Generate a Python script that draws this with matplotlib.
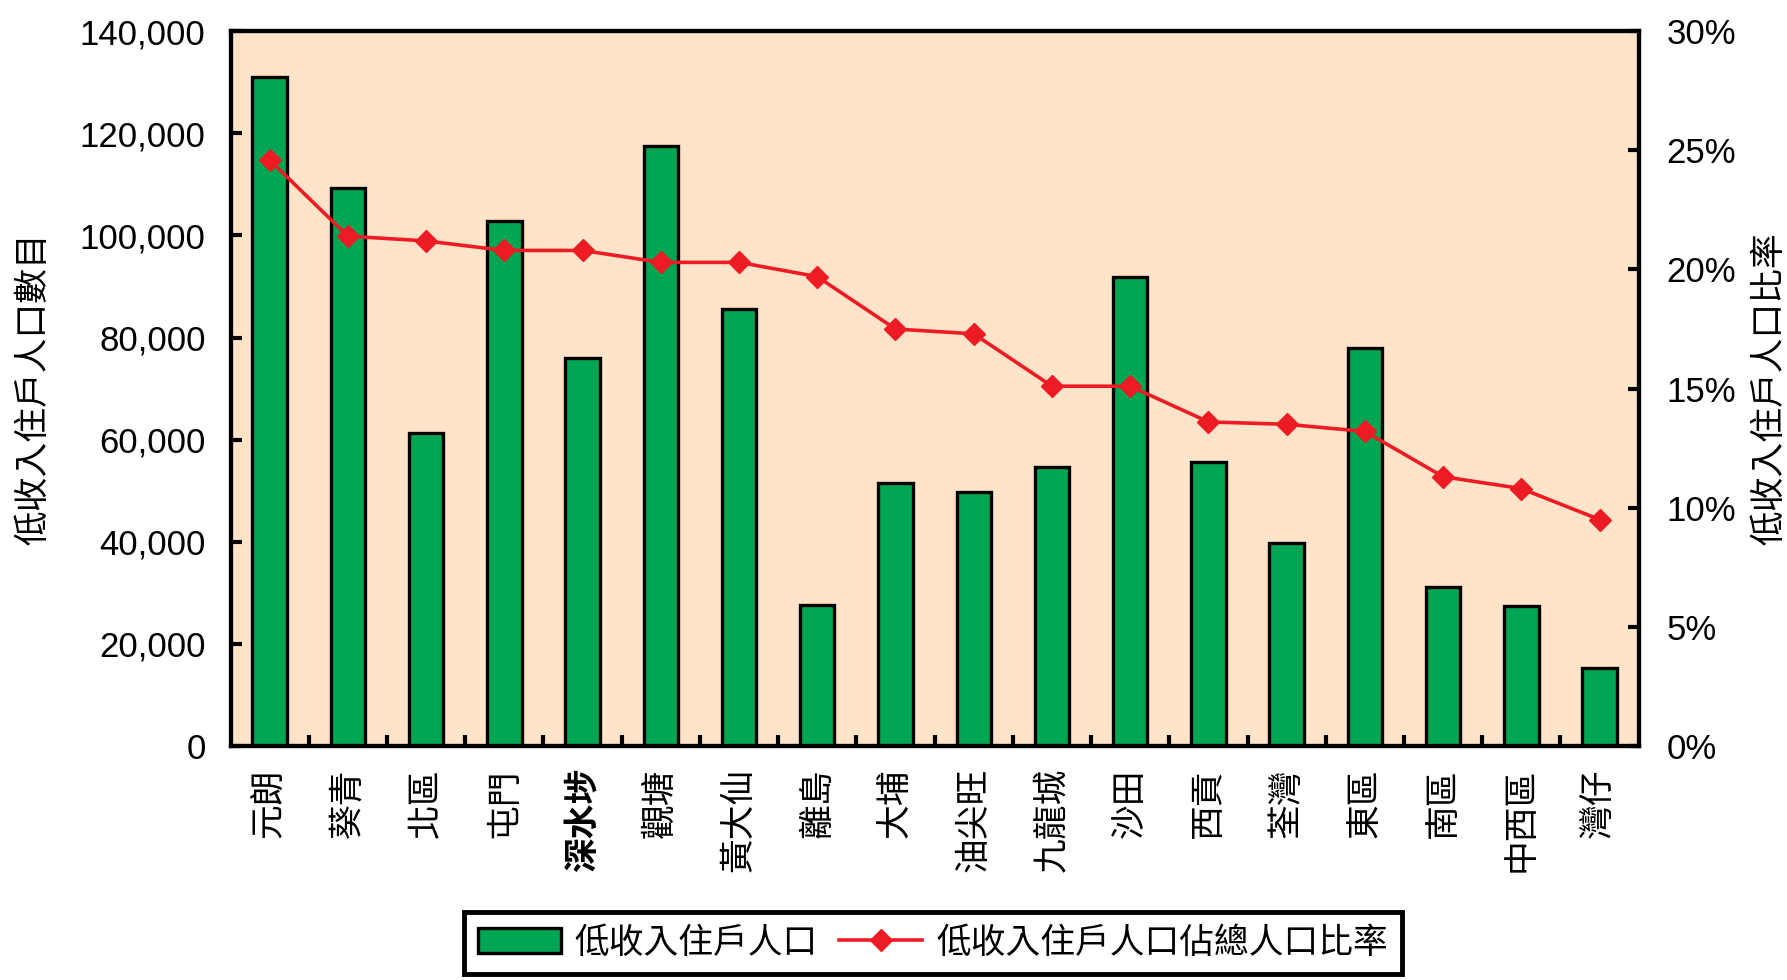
import matplotlib
matplotlib.use("Agg")
import matplotlib.pyplot as plt
from matplotlib.ticker import FuncFormatter, MultipleLocator
import numpy as np

plt.rcParams["font.family"] = ["Liberation Sans", "Noto Sans CJK TC", "DejaVu Sans"]

districts = ["元朗", "葵青", "北區", "屯門", "深水埗", "觀塘", "黃大仙", "離島", "大埔",
             "油尖旺", "九龍城", "沙田", "西貢", "荃灣", "東區", "南區", "中西區", "灣仔"]
low_income_pop = [131000, 109400, 61300, 102800, 76000, 117500, 85600, 27600, 51500,
                  49700, 54600, 91800, 55700, 39700, 78000, 31200, 27400, 15200]
low_income_pct = [24.6, 21.4, 21.2, 20.8, 20.8, 20.3, 20.3, 19.7, 17.5,
                  17.3, 15.1, 15.1, 13.6, 13.5, 13.2, 11.3, 10.8, 9.5]

bar_label = "低收入住戶人口"
line_label = "低收入住戶人口佔總人口比率"
left_title = "低收入住戶人口數目"
right_title = "低收入住戶人口比率"

green = "#00A651"
red = "#ED1C24"
bg = "#FFE4C9"
cjk = ["Noto Sans CJK TC", "DejaVu Sans"]

fig = plt.figure(figsize=(17.87, 9.80), dpi=100)
ax = fig.add_axes([0.129, 0.239, 0.788, 0.729])
ax.set_facecolor(bg)

x = np.arange(len(districts))
ax.bar(x, low_income_pop, width=0.44, color=green, edgecolor="black", linewidth=2.4,
       label=bar_label, zorder=2)
ax.set_xlim(-0.5, len(districts) - 0.5)
ax.set_ylim(0, 140000)
ax.yaxis.set_major_locator(MultipleLocator(20000))
ax.yaxis.set_major_formatter(FuncFormatter(lambda v, p: f"{int(v):,}"))

ax2 = ax.twinx()
ax2.plot(x, low_income_pct, color=red, linewidth=2.6, marker="D", markersize=11,
         label=line_label, zorder=3)
ax2.set_ylim(0, 30)
ax2.yaxis.set_major_locator(MultipleLocator(5))
ax2.yaxis.set_major_formatter(FuncFormatter(lambda v, p: f"{int(v)}%"))

for a in (ax, ax2):
    for s in a.spines.values():
        s.set_linewidth(3)
ax.tick_params(axis="y", direction="in", length=8, width=3, labelsize=25, pad=18)
ax2.tick_params(axis="y", direction="in", length=8, width=3, labelsize=25, pad=20)

# x ticks sit between categories, labels under each bar
ax.set_xticks(x[:-1] + 0.5)
ax.set_xticklabels([])
ax.tick_params(axis="x", which="major", direction="in", length=8, width=3)
ax.set_xticks(x, minor=True)
ax.set_xticklabels(districts, minor=True, rotation=90, family=cjk, fontsize=25,
                   fontweight="light")
ax.tick_params(axis="x", which="minor", length=0, pad=16)
for lbl in ax.get_xticklabels(minor=True):
    if lbl.get_text() == "深水埗":
        lbl.set_fontweight("bold")

ax.set_ylabel(left_title, family=cjk, fontsize=25, fontweight="light", labelpad=20)
ax2.set_ylabel(right_title, family=cjk, fontsize=25, fontweight="light", labelpad=12)

h1, l1 = ax.get_legend_handles_labels()
h2, l2 = ax2.get_legend_handles_labels()
leg = fig.legend(h1 + h2, l1 + l2, loc="lower center", bbox_to_anchor=(0.522, -0.012),
                 ncol=2, fancybox=False, framealpha=1, edgecolor="black",
                 prop={"family": cjk, "size": 25, "weight": "light"},
                 handlelength=2.4, columnspacing=0.6, handletextpad=0.4,
                 borderpad=0.4)
leg.get_frame().set_linewidth(3.5)

fig.savefig("out.png", dpi=100)
